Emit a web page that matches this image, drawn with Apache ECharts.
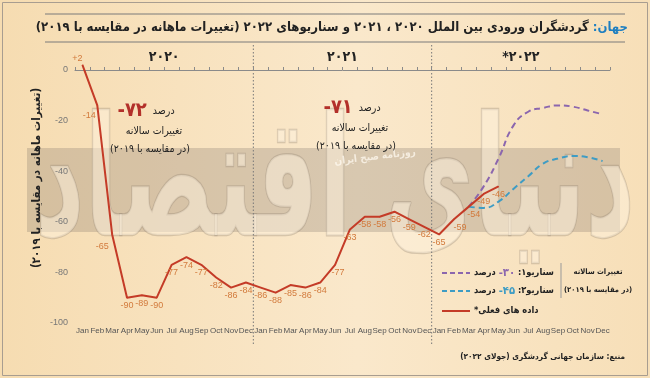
<!DOCTYPE html>
<html>
<head>
<meta charset="utf-8">
<script src="https://cdn.jsdelivr.net/npm/echarts@6/dist/echarts.min.js"></script>
<style>
html, body { margin: 0; padding: 0; }
#chart { width: 650px; height: 378px; }
</style>
</head>
<body>
<div id="chart"></div>
<script>
// داده ها
var monthNames = ['Jan', 'Feb', 'Mar', 'Apr', 'May', 'Jun', 'Jul', 'Aug', 'Sep', 'Oct', 'Nov', 'Dec'];
var years = ['۲۰۲۰', '۲۰۲۱', '*۲۰۲۲'];
var actual = [2, -14, -65, -90, -89, -90, -77, -74, -77, -82, -86, -84,
              -86, -88, -85, -86, -84, -77, -63, -58, -58, -56, -59, -62,
              -65, -59, -54, -49, -46];
var scenarioStart = 26; // Mar 2022
var scenario1 = [-54, -46, -35, -22, -16.5, -15, -14, -14.5, -16, -17.5];
var scenario2 = [-54, -54.5, -52, -47, -42, -37, -35, -34, -34.5, -36];
var yTicks = [-100, -80, -60, -40, -20, 0];

var categories = [];
years.forEach(function () { categories = categories.concat(monthNames); });

var RLM = '\u200F';
function rtl(s) { return RLM + s + RLM; }
var FONT = '"DejaVu Sans Condensed", "DejaVu Sans"';

// اندازه قلم برای یک پهنای معین
var measureCtx = document.createElement('canvas').getContext('2d');
function fitSize(text, weight, target, max) {
    measureCtx.font = weight + ' 100px ' + FONT;
    var w = measureCtx.measureText(text).width;
    return Math.min(max, Math.round(1000 * target / w) / 10);
}

// جای برچسب ها
var labelOpts = {
    0: { position: 'top', offset: [-5, 2] },
    1: { position: 'left', offset: [2, 10] },
    2: { position: 'left', offset: [0, 12] },
    17: { offset: [3, 0] },
    25: { offset: [6, 0] },
    26: { offset: [5, 0] }
};

var actualData = actual.map(function (v, i) {
    var item = { value: v };
    if (labelOpts[i]) item.label = labelOpts[i];
    return item;
});

var chart = echarts.init(document.getElementById('chart'));

var option = {
    backgroundColor: {
        type: 'linear', x: 0, y: 0, x2: 1, y2: 0,
        colorStops: [
            { offset: 0, color: '#f6dcb1' },
            { offset: 0.55, color: '#fae8cb' },
            { offset: 1, color: '#f7dfb8' }
        ]
    },
    animation: false,
    grid: { left: 75, right: 40, top: 70, bottom: 55 },
    xAxis: {
        type: 'category',
        data: categories,
        boundaryGap: true,
        axisLine: { lineStyle: { color: '#8a8a8a', width: 1 } },
        axisTick: { show: true, inside: true, length: 3, lineStyle: { color: '#8a8a8a' } },
        axisLabel: { interval: 0, fontSize: 8, color: '#555', margin: 4, fontFamily: 'Liberation Sans' },
        splitLine: { show: false }
    },
    yAxis: {
        type: 'value',
        min: yTicks[0],
        max: yTicks[yTicks.length - 1],
        interval: 20,
        axisLine: { show: false },
        axisTick: { show: false },
        axisLabel: { fontSize: 9, color: '#777', margin: 7, fontFamily: 'Liberation Sans' },
        splitLine: { show: false }
    },
    series: [
        {
            name: 'actual',
            type: 'line',
            data: actualData,
            clip: false,
            symbol: 'circle',
            symbolSize: 1,
            itemStyle: { color: '#c43b27' },
            lineStyle: { color: '#c43b27', width: 2 },
            label: {
                show: true,
                position: 'bottom',
                distance: 3,
                fontSize: 9,
                color: '#d27a3c',
                fontFamily: 'Liberation Sans',
                formatter: function (p) { return p.value > 0 ? '+' + p.value : '' + p.value; }
            },
            z: 5
        },
        {
            name: 'scenario1',
            type: 'line',
            smooth: true,
            symbol: 'none',
            data: scenario1.map(function (v, i) { return [scenarioStart + i, v]; }),
            lineStyle: { color: '#8b66ae', width: 2, type: [6, 4] },
            z: 4
        },
        {
            name: 'scenario2',
            type: 'line',
            smooth: true,
            symbol: 'none',
            data: scenario2.map(function (v, i) { return [scenarioStart + i, v]; }),
            lineStyle: { color: '#3e9cc4', width: 2, type: [6, 4] },
            z: 4
        }
    ],
    graphic: []
};

chart.setOption(option);

// عناصر تزئینی و متن ها
function px(i) { return chart.convertToPixel({ xAxisIndex: 0 }, i); }
var sep1 = (px(11) + px(12)) / 2;
var sep2 = (px(23) + px(24)) / 2;
var yearX = [(px(0) + px(11)) / 2, (px(12) + px(23)) / 2, (px(24) + px(35)) / 2];

var g = [];
// قاب
g.push({ type: 'rect', shape: { x: 2.5, y: 2.5, width: 645, height: 373 }, style: { fill: 'none', stroke: '#a89d90', lineWidth: 1 }, z: -20 });
// نوار خاکستری و نشان روزنامه
g.push({ type: 'rect', shape: { x: 27, y: 148, width: 593, height: 84 }, style: { fill: 'rgba(120,110,100,0.26)' }, z: -10 });
var mark = rtl('دنیای اقتصاد');
g.push({ type: 'text', x: 335, y: 192, scaleY: 1.55, style: { text: mark, font: 'bold ' + fitSize(mark, 'bold', 600, 200) + 'px ' + FONT, fill: 'rgba(253,242,222,0.5)', stroke: 'rgba(150,135,118,0.35)', lineWidth: 1.5, align: 'center', verticalAlign: 'middle' }, z: -9 });
g.push({ type: 'text', x: 375, y: 157, rotation: 0.12, style: { text: rtl('روزنامه صبح ایران'), font: 'bold 10px ' + FONT, fill: 'rgba(255,250,240,0.75)', align: 'center', verticalAlign: 'middle' }, z: -8 });

// عنوان
var titleMain = rtl(' گردشگران ورودی بین الملل ۲۰۲۰ ، ۲۰۲۱ و سناریوهای ۲۰۲۲ (تغییرات ماهانه در مقایسه با ۲۰۱۹)');
var titleHead = rtl('جهان:');
var titleSize = fitSize(titleMain + titleHead, 'bold', 592, 16);
g.push({ type: 'line', shape: { x1: 45, y1: 14, x2: 625, y2: 14 }, style: { stroke: '#7a7a7a', lineWidth: 1 } });
g.push({ type: 'line', shape: { x1: 45, y1: 42, x2: 625, y2: 42 }, style: { stroke: '#7a7a7a', lineWidth: 1 } });
g.push({
    type: 'text', x: 628, y: 28,
    style: {
        text: '{t|' + titleMain + '}{b|' + titleHead + '}',
        align: 'right', verticalAlign: 'middle',
        rich: {
            t: { font: 'bold ' + titleSize + 'px ' + FONT, fill: '#222' },
            b: { font: 'bold ' + titleSize + 'px ' + FONT, fill: '#1f7fc0' }
        }
    }
});

// جداکننده سال ها
[sep1, sep2].forEach(function (x) {
    g.push({ type: 'line', shape: { x1: x, y1: 45, x2: x, y2: 345 }, style: { stroke: '#777', lineWidth: 1, lineDash: [1.5, 2] } });
});
years.forEach(function (y, i) {
    g.push({ type: 'text', x: yearX[i], y: 57, style: { text: y, font: 'bold 14px ' + FONT, fill: '#222', align: 'center', verticalAlign: 'middle' } });
});

// عنوان محور عمودی
var yName = rtl('(تغییرات ماهانه در مقایسه با ۲۰۱۹)');
g.push({ type: 'text', x: 37, y: 178, rotation: Math.PI / 2, style: { text: yName, font: 'bold ' + fitSize(yName, 'bold', 180, 13) + 'px ' + FONT, fill: '#222', align: 'center', verticalAlign: 'middle' } });

// یادداشت ها
var noteL1 = rtl('تغییرات سالانه');
var noteL2 = rtl('(در مقایسه با ۲۰۱۹)');
var noteSize = fitSize(noteL2, 'normal', 80, 11);
function note(cx, y, num) {
    g.push({ type: 'text', x: cx, y: y, style: { text: '{r|' + num + '}{n|  درصد}', align: 'center', verticalAlign: 'middle', rich: { r: { font: 'bold 20px ' + FONT, fill: '#b3302a' }, n: { font: noteSize + 'px ' + FONT, fill: '#222' } } } });
    g.push({ type: 'text', x: cx + 8, y: y + 20, style: { text: noteL1, font: noteSize + 'px ' + FONT, fill: '#222', align: 'center', verticalAlign: 'middle' } });
    g.push({ type: 'text', x: cx + 4, y: y + 38, style: { text: noteL2, font: noteSize + 'px ' + FONT, fill: '#222', align: 'center', verticalAlign: 'middle' } });
}
note(146, 111, '-۷۲');
note(352, 108, '-۷۱');

// راهنما
var legSize = fitSize(noteL2, 'bold', 68, 11);
g.push({ type: 'line', shape: { x1: 561, y1: 263, x2: 561, y2: 298 }, style: { stroke: '#999', lineWidth: 1 } });
g.push({ type: 'text', x: 598, y: 272, style: { text: noteL1, font: 'bold ' + legSize + 'px ' + FONT, fill: '#222', align: 'center', verticalAlign: 'middle' } });
g.push({ type: 'text', x: 598, y: 290, style: { text: noteL2, font: 'bold ' + legSize + 'px ' + FONT, fill: '#222', align: 'center', verticalAlign: 'middle' } });
var legendRows = [
    { y: 273, color: '#8b66ae', dash: [5, 3], num: '-۳۰', name: 'سناریو۱: ' },
    { y: 291, color: '#3e9cc4', dash: [5, 3], num: '-۴۵', name: 'سناریو۲: ' }
];
var rowSize = fitSize('درصد -۳۰ سناریو۱: ', 'bold', 80, 11);
legendRows.forEach(function (r) {
    g.push({ type: 'line', shape: { x1: 442, y1: r.y, x2: 470, y2: r.y }, style: { stroke: r.color, lineWidth: 2, lineDash: r.dash } });
    g.push({ type: 'text', x: 474, y: r.y, style: { text: '{n|درصد }{p|' + r.num + '}{n|' + rtl(r.name) + '}', align: 'left', verticalAlign: 'middle', rich: { n: { font: 'bold ' + rowSize + 'px ' + FONT, fill: '#222' }, p: { font: 'bold ' + (rowSize + 2) + 'px ' + FONT, fill: r.color } } } });
});
g.push({ type: 'line', shape: { x1: 442, y1: 311, x2: 470, y2: 311 }, style: { stroke: '#c43b27', lineWidth: 2 } });
g.push({ type: 'text', x: 474, y: 311, style: { text: rtl('داده های فعلی*'), font: 'bold ' + rowSize + 'px ' + FONT, fill: '#222', align: 'left', verticalAlign: 'middle' } });

// منبع
var src = rtl('منبع: سازمان جهانی گردشگری (جولای ۲۰۲۲)');
g.push({ type: 'text', x: 625, y: 357, style: { text: src, font: 'bold ' + fitSize(src, 'bold', 165, 11) + 'px ' + FONT, fill: '#222', align: 'right', verticalAlign: 'middle' } });

chart.setOption({ graphic: g });
</script>
</body>
</html>
